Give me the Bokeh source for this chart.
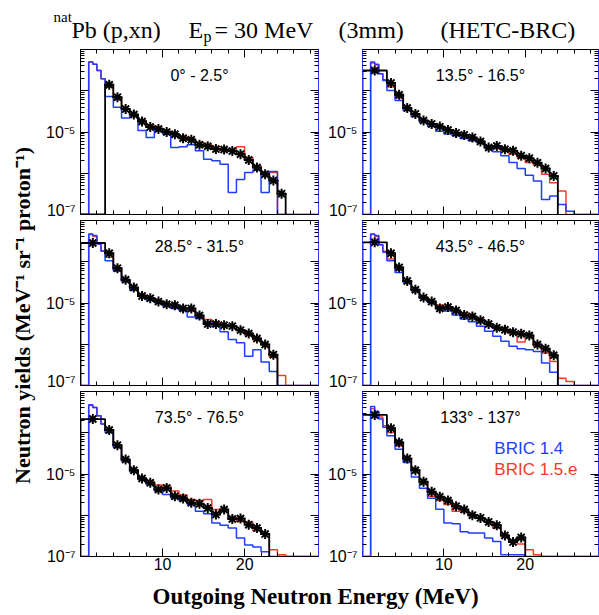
import math
from bokeh.plotting import figure
from bokeh.models import Range1d, FixedTicker, LogAxis, LinearAxis, Label, CustomJSTickFormatter
from bokeh.layouts import row, column
from bokeh.embed import file_html
from bokeh.resources import INLINE

# ---------------- data ----------------
X_MIN, X_MAX = 0, 29
Y_MIN, Y_MAX = 1e-7, 1e-3
X_MAJOR = [10, 20]
X_MINOR = [2, 4, 6, 8, 12, 14, 16, 18, 22, 24, 26, 28]
Y_MAJOR = [1e-7, 1e-6, 1e-5, 1e-4, 1e-3]
Y_MINOR = [m * d for d in [1e-7, 1e-6, 1e-5, 1e-4] for m in range(2, 10)]

# BRIC bin edges (MeV)
mc_edges = [0, 1, 1.5, 2, 2.5] + list(range(3, 30))
# measured data: first bin 0-3 MeV, then 1 MeV bins

angles = ["0\u00b0 - 2.5\u00b0", "13.5\u00b0 - 16.5\u00b0", "28.5\u00b0 - 31.5\u00b0",
          "43.5\u00b0 - 46.5\u00b0", "73.5\u00b0 - 76.5\u00b0", "133\u00b0 - 137\u00b0"]

data_000 = [0, 1.40e-4, 7.0e-5, 3.6e-5, 2.65e-5, 1.8e-5, 1.32e-5, 1.18e-5, 1.0e-5, 8.8e-6, 7.1e-6,
            6.5e-6, 4.9e-6, 4.5e-6, 3.85e-6, 3.75e-6, 3.45e-6, 2.9e-6, 2.1e-6, 1.37e-6, 9.5e-7, 6.7e-7, 3.2e-7]
red_000 = [0, 5.0e-4, 4.4e-4, 3.1e-4, 1.96e-4, 1.23e-4, 6.7e-5, 3.6e-5, 2.5e-5, 1.89e-5, 1.43e-5, 1.25e-5,
           1.04e-5, 8.9e-6, 7.8e-6, 6.7e-6, 5.6e-6, 4.9e-6, 4.1e-6, 3.5e-6, 3.4e-6, 4.4e-6, 2.4e-6, 1.5e-6,
           1.04e-6, 1.04e-6, 0, 0, 0, 0, 0]
blue_000 = [0, 5.0e-4, 4.4e-4, 3.1e-4, 1.96e-4, 7.3e-5, 4.0e-5, 2.2e-5, 2.6e-5, 1.08e-5, 7.4e-6, 1.12e-5,
            8.9e-6, 4.2e-6, 4.4e-6, 4.9e-6, 3.5e-6, 2.2e-6, 2.0e-6, 1.66e-6, 3.4e-7, 7.1e-7, 1.04e-6, 1.18e-6,
            3.4e-7, 1.1e-6, 0, 0, 0, 0, 0]

data_015 = [3.1e-4, 1.54e-4, 8.0e-5, 3.8e-5, 2.75e-5, 1.89e-5, 1.57e-5, 1.35e-5, 1.12e-5, 9.5e-6, 8.5e-6,
            7.4e-6, 5.9e-6, 4.2e-6, 4.6e-6, 3.8e-6, 3.5e-6, 2.65e-6, 2.3e-6, 1.79e-6, 1.3e-6, 8.6e-7]
red_015 = [0, 4.7e-4, 4.2e-4, 2.6e-4, 1.85e-4, 1.23e-4, 6.7e-5, 3.6e-5, 2.37e-5, 1.89e-5, 1.51e-5, 1.30e-5,
           1.12e-5, 8.9e-6, 8.1e-6, 7.1e-6, 5.9e-6, 4.4e-6, 4.1e-6, 3.5e-6, 2.9e-6, 2.4e-6, 1.82e-6, 1.6e-6,
           9.5e-7, 5.9e-7, 3.7e-7, 0, 0, 0, 0]
blue_015 = [0, 5.0e-4, 4.4e-4, 2.6e-4, 1.78e-4, 1.02e-4, 5.8e-5, 3.3e-5, 2.37e-5, 1.72e-5, 1.35e-5, 1.04e-5,
            8.9e-6, 8.1e-6, 7.0e-6, 6.1e-6, 5.6e-6, 4.1e-6, 3.3e-6, 2.65e-6, 1.82e-6, 1.3e-6, 8.9e-7, 6.5e-7,
            2.3e-7, 2.8e-7, 1.75e-7, 1.2e-7, 0, 0, 0]

data_030 = [2.85e-4, 1.6e-4, 7.0e-5, 3.64e-5, 2.37e-5, 1.48e-5, 1.30e-5, 1.08e-5, 9.3e-6, 8.8e-6, 7.4e-6,
            7.4e-6, 5.0e-6, 3.1e-6, 3.1e-6, 2.9e-6, 2.75e-6, 2.2e-6, 1.82e-6, 1.37e-6, 9.8e-7, 5.6e-7]
red_030 = [0, 4.6e-4, 4.1e-4, 2.7e-4, 1.85e-4, 1.28e-4, 6.6e-5, 3.4e-5, 2.28e-5, 1.57e-5, 1.30e-5, 1.12e-5,
           9.3e-6, 8.5e-6, 7.3e-6, 6.4e-6, 4.5e-6, 4.0e-6, 3.4e-6, 2.9e-6, 2.7e-6, 2.15e-6, 1.66e-6, 1.26e-6,
           1.0e-6, 4.9e-7, 1.75e-7, 0, 0, 0, 0]
blue_030 = [0, 4.7e-4, 4.3e-4, 2.7e-4, 1.79e-4, 1.06e-4, 6.0e-5, 3.3e-5, 2.04e-5, 1.48e-5, 1.16e-5, 1.02e-5,
            8.5e-6, 7.4e-6, 6.6e-6, 4.6e-6, 4.2e-6, 3.3e-6, 2.75e-6, 2.0e-6, 1.3e-6, 1.08e-6, 5.1e-7, 7.4e-7,
            3.7e-7, 2.2e-7, 0, 0, 0, 0, 0]

data_045 = [2.96e-4, 1.6e-4, 7.3e-5, 3.4e-5, 2.1e-5, 1.35e-5, 1.08e-5, 7.4e-6, 8.0e-6, 6.6e-6, 5.1e-6,
            4.7e-6, 3.8e-6, 3.1e-6, 2.5e-6, 2.24e-6, 1.96e-6, 1.79e-6, 1.63e-6, 9.8e-7, 7.8e-7, 5.4e-7]
red_045 = [0, 4.6e-4, 4.1e-4, 2.6e-4, 1.79e-4, 1.16e-4, 6.3e-5, 3.3e-5, 2.04e-5, 1.4e-5, 1.08e-5, 8.9e-6,
           7.7e-6, 6.4e-6, 5.8e-6, 4.6e-6, 4.0e-6, 3.0e-6, 2.6e-6, 2.2e-6, 1.79e-6, 1.14e-6, 1.48e-6, 8.9e-7,
           6.1e-7, 3.8e-7, 1.5e-7, 1.25e-7, 0, 0, 0]
blue_045 = [0, 4.7e-4, 4.3e-4, 2.6e-4, 1.69e-4, 1.06e-4, 5.5e-5, 3.1e-5, 1.96e-5, 1.30e-5, 1.02e-5, 7.7e-6,
            6.4e-6, 5.1e-6, 4.1e-6, 3.5e-6, 2.75e-6, 2.07e-6, 1.57e-6, 1.18e-6, 9.0e-7, 7.8e-7, 7.4e-7, 6.7e-7,
            3.5e-7, 2.1e-7, 0, 0, 0, 0, 0]

data_075 = [2.15e-4, 1.16e-4, 5.0e-5, 2.24e-5, 1.23e-5, 7.8e-6, 6.1e-6, 4.2e-6, 4.6e-6, 2.9e-6, 2.55e-6,
            2.0e-6, 1.89e-6, 1.5e-6, 1.04e-6, 1.37e-6, 8.1e-7, 8.3e-7, 5.9e-7, 4.9e-7, 3.5e-7]
red_075 = [0, 4.6e-4, 4.1e-4, 2.6e-4, 1.63e-4, 1.12e-4, 4.8e-5, 2.07e-5, 1.23e-5, 8.1e-6, 6.5e-6, 5.4e-6,
           5.1e-6, 3.85e-6, 3.1e-6, 2.4e-6, 2.28e-6, 2.4e-6, 1.37e-6, 1.37e-6, 8.9e-7, 7.1e-7, 6.9e-7, 4.2e-7,
           3.5e-7, 1.45e-7, 1.1e-7, 0, 0, 0, 0]
blue_075 = [0, 4.8e-4, 4.1e-4, 2.6e-4, 1.63e-4, 1.02e-4, 4.4e-5, 2.07e-5, 1.14e-5, 7.4e-6, 5.6e-6, 3.85e-6,
            3.2e-6, 2.65e-6, 2.28e-6, 1.82e-6, 1.25e-6, 1.08e-6, 6.5e-7, 5.7e-7, 4.9e-7, 2.8e-7, 1.9e-7, 1.7e-7,
            1.3e-7, 0, 0, 0, 0, 0, 0]

data_135 = [2.7e-4, 1.28e-4, 5.8e-5, 2.37e-5, 1.23e-5, 6.5e-6, 3.7e-6, 2.8e-6, 2.28e-6, 1.66e-6, 1.37e-6,
            1.0e-6, 8.6e-7, 6.9e-7, 5.7e-7, 3.25e-7, 2.24e-7, 2.9e-7]
red_135 = [0, 3.8e-4, 3.2e-4, 2.4e-4, 1.48e-4, 1.02e-4, 4.8e-5, 2.28e-5, 1.23e-5, 6.1e-6, 2.9e-6, 2.28e-6,
           1.82e-6, 1.25e-6, 1.2e-6, 1.0e-6, 8.6e-7, 7.1e-7, 4.9e-7, 3.1e-7, 2.4e-7, 2.0e-7, 1.45e-7, 1.1e-7,
           0, 0, 0, 0, 0, 0, 0]
blue_135 = [0, 4.3e-4, 3.3e-4, 2.15e-4, 1.35e-4, 8.5e-5, 4.0e-5, 1.9e-5, 8.5e-6, 4.5e-6, 2.6e-6, 1.4e-6,
            6.5e-7, 6.2e-7, 4.0e-7, 3.7e-7, 3.7e-7, 2.8e-7, 2.3e-7, 1.1e-7, 1.1e-7, 1.1e-7, 0, 0, 0, 0, 0, 0,
            0, 0, 0]

panels = [
    (angles[0], data_000, blue_000, red_000),
    (angles[1], data_015, blue_015, red_015),
    (angles[2], data_030, blue_030, red_030),
    (angles[3], data_045, blue_045, red_045),
    (angles[4], data_075, blue_075, red_075),
    (angles[5], data_135, blue_135, red_135),
]

legend_labels = ["BRIC 1.4", "BRIC 1.5.e"]

# ---------------- style ----------------
BLUE = "#1f3dff"
RED = "#f53a2a"
SANS = "Liberation Sans"
SERIF = "Liberation Serif"


def step_path(edges, vals, floor):
    xs, ys = [edges[0]], [floor]
    for i, v in enumerate(vals):
        vv = max(v, floor)
        xs += [edges[i], edges[i + 1]]
        ys += [vv, vv]
    xs.append(edges[-1])
    ys.append(floor)
    return xs, ys


yfmt_code = """
const e = Math.round(Math.log10(tick));
if (e == -5) return "10\u207b\u2075";
if (e == -7) return "10\u207b\u2077";
return "";
"""
blank_code = "return '';"


def style_axis(ax, ticker, labels, color="black"):
    ax.ticker = ticker
    ax.major_tick_in = 8
    ax.major_tick_out = 0
    ax.minor_tick_in = 4
    ax.minor_tick_out = 0
    ax.major_tick_line_color = "black"
    ax.minor_tick_line_color = "black"
    ax.axis_line_color = color
    ax.major_label_text_font = SANS
    ax.major_label_text_color = "black"
    if labels:
        ax.major_label_text_font_size = "16px"
    else:
        ax.formatter = CustomJSTickFormatter(code=blank_code)
        ax.major_label_text_font_size = "1px"
        ax.major_label_standoff = 0


def make_panel(idx, label, data, blue, red):
    col = idx % 2
    rowi = idx // 2
    bl = 40 if col == 0 else 43
    br = 1
    bt = 2
    bb = 20 if rowi == 2 else 4
    fw = 238 if col == 0 else 236
    fh = 165
    p = figure(width=bl + fw + br, height=bt + fh + bb,
               x_range=Range1d(X_MIN, X_MAX), y_range=Range1d(Y_MIN, Y_MAX),
               y_axis_type="log", output_backend="svg", toolbar_location=None,
               min_border_left=bl, min_border_right=br, min_border_top=bt, min_border_bottom=bb)
    p.xgrid.visible = False
    p.ygrid.visible = False
    p.outline_line_color = "black"
    p.background_fill_color = "white"
    p.border_fill_color = "white"

    xt = FixedTicker(ticks=X_MAJOR, minor_ticks=X_MINOR)
    yt = FixedTicker(ticks=Y_MAJOR, minor_ticks=Y_MINOR)

    for ax in p.xaxis:
        style_axis(ax, xt, rowi == 2)
        if rowi == 2:
            ax.major_label_standoff = 1
    for ax in p.yaxis:
        style_axis(ax, yt, True, "black" if col == 0 else BLUE)
        ax.formatter = CustomJSTickFormatter(code=yfmt_code)
        ax.major_label_standoff = 5

    ra = LogAxis()
    style_axis(ra, yt, False, BLUE)
    p.add_layout(ra, "right")
    ta = LinearAxis()
    style_axis(ta, xt, False)
    p.add_layout(ta, "above")

    # BRIC 1.5.e (red)
    rx, ry = step_path(mc_edges, red, Y_MIN)
    p.line(rx, ry, line_color=RED, line_width=1.5)
    # BRIC 1.4 (blue)
    bx, by = step_path(mc_edges, blue, Y_MIN)
    p.line(bx, by, line_color=BLUE, line_width=1.5)
    # measured data
    d_edges = [0] + list(range(3, len(data) + 3))
    dx, dy = step_path(d_edges, data, Y_MIN)
    p.line(dx, dy, line_color="black", line_width=1.8)
    cx = [(d_edges[i] + d_edges[i + 1]) / 2 for i, v in enumerate(data) if v > 0]
    cy = [v for v in data if v > 0]
    p.scatter(cx, cy, marker="asterisk", size=10, line_color="black", line_width=2)

    p.add_layout(Label(x=(X_MIN + X_MAX) / 2, y=2.3e-4, text=label, text_align="center",
                       text_baseline="middle", text_font=SANS, text_font_size="16px",
                       text_color="black"))
    if idx == 5:
        p.add_layout(Label(x=16.2, y=4.2e-5, text=legend_labels[0], text_align="left",
                           text_baseline="middle", text_font=SANS, text_font_size="17px",
                           text_color=BLUE))
        p.add_layout(Label(x=16.2, y=1.28e-5, text=legend_labels[1], text_align="left",
                           text_baseline="middle", text_font=SANS, text_font_size="17px",
                           text_color=RED))
    return p


def text_fig(w, h):
    f = figure(width=w, height=h, x_range=Range1d(0, w), y_range=Range1d(h, 0),
               output_backend="svg", toolbar_location=None, min_border=0,
               x_axis_location=None, y_axis_location=None)
    f.outline_line_color = None
    f.xgrid.visible = False
    f.ygrid.visible = False
    return f


# header
header = text_fig(599, 47)
for txt, x, y, size in [("nat", 53, 16, "15px"), ("Pb (p,xn)", 71, 29, "24px"), ("E", 188, 29, "24px"),
                        ("p", 203, 36, "16px"), ("= 30 MeV", 214, 29, "24px"), ("(3mm)", 338, 29, "24px"),
                        ("(HETC-BRC)", 440, 29, "24px")]:
    header.add_layout(Label(x=x, y=y, text=txt, text_align="left", text_baseline="alphabetic",
                            text_font=SERIF, text_font_size=size, text_color="black"))

# y label
ylab = text_fig(40, 529)
ylab.add_layout(Label(x=22, y=268, text="Neutron yields (MeV\u207b\u00b9 sr\u207b\u00b9 proton\u207b\u00b9)",
                      angle=math.pi / 2, text_align="center", text_baseline="middle",
                      text_font=SERIF, text_font_style="bold", text_font_size="22px", text_color="black"))

# footer
footer = text_fig(599, 39)
footer.add_layout(Label(x=318, y=20, text="Outgoing Neutron Energy  (MeV)", text_align="center",
                        text_baseline="middle", text_font=SERIF, text_font_style="bold",
                        text_font_size="23px", text_color="black"))

figs = [make_panel(i, *panels[i]) for i in range(6)]
grid = column(row(figs[0], figs[1]), row(figs[2], figs[3]), row(figs[4], figs[5]))
layout = column(header, row(ylab, grid), footer)

open("out.html", "w").write(file_html(layout, INLINE))
